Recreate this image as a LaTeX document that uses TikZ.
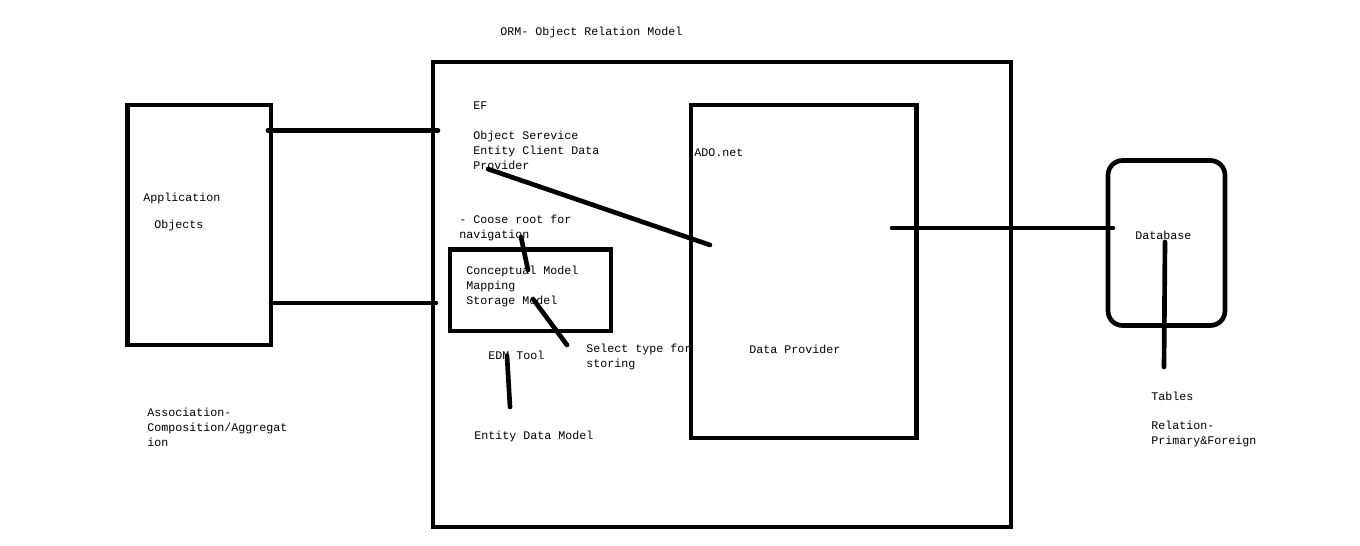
\documentclass[tikz,border=0pt]{standalone}
\usepackage{fontspec}
\setmonofont{Liberation Mono}

\begin{document}
\begin{tikzpicture}[x=0.75pt, y=-0.75pt, line cap=round,
  every node/.style={font=\ttfamily\fontsize{8.75pt}{11.25pt}\selectfont, align=left, inner sep=0pt},
  box/.style={draw, line width=3.5pt},
  lbl/.style={anchor=base west},
  wire/.style={line width=3.5pt}]
  \useasboundingbox (0,0) rectangle (1360,546);
  % boxes
  \node[box, minimum width=107.6pt, minimum height=180pt] (app) at (199.25,225) {};
  \node[box, minimum width=433.5pt, minimum height=348.75pt] (orm) at (722,294.5) {};
  \node[box, minimum width=169.1pt, minimum height=249.75pt] (ado) at (803.75,271.5) {};
  \node[box, minimum width=120.75pt, minimum height=61.1pt] (cmodel) at (530.5,290.25) {};
  \node[box, rounded corners=11pt, minimum width=87.75pt, minimum height=123.75pt] (db) at (1166.5,243) {};
  % texts (base = last line)
  \node[lbl] (title) at (500,35) {ORM- Object Relation Model};
  \node[lbl] (ef) at (473,109) {EF};
  \node[lbl] (objsvc) at (473,169) {Object Serevice\\Entity Client Data\\Provider};
  \node[lbl] (adonet) at (694,156) {ADO.net};
  \node[lbl] (root) at (459,238) {- Coose root for\\navigation};
  \node[lbl] (models) at (466,304) {Conceptual Model\\Mapping\\Storage Model};
  \node[lbl] (edmtool) at (488,359) {EDM Tool};
  \node[lbl] (select) at (586,367) {Select type for\\storing};
  \node[lbl] (edm) at (474,439) {Entity Data Model};
  \node[lbl] (dataprov) at (749,353) {Data Provider};
  \node[lbl] (appl) at (143,201) {Application};
  \node[lbl] (objs) at (154,228) {Objects};
  \node[lbl] (assoc) at (147,446) {Association-\\Composition/Aggregat\\ion};
  \node[lbl] (dbase) at (1135,239) {Database};
  \node[lbl] (tables) at (1151,400) {Tables};
  \node[lbl] (rel) at (1151,444) {Relation-\\Primary\&Foreign};
  % connector ends
  \coordinate (apptop) at (268,130.5);
  \coordinate (ormtop) at (438,130.5);
  \coordinate (appbot) at (271,303);
  \coordinate (ormbot) at (436,303);
  \coordinate (provend) at (488,169);
  \coordinate (adoend) at (710,245);
  \coordinate (rootend) at (521,237);
  \coordinate (conend) at (528,270);
  \coordinate (storend) at (533,299);
  \coordinate (selend) at (567,345);
  \coordinate (tooltop) at (507,356);
  \coordinate (toolbot) at (510,407);
  \coordinate (adoout) at (892,228);
  \coordinate (dbin) at (1113,228);
  \coordinate (dbtop) at (1165,242);
  \coordinate (tabend) at (1164,367);
  % lines
  \draw[wire] (apptop) -- (ormtop);
  \draw[wire] (appbot) -- (ormbot);
  \draw[wire] (provend) -- (adoend);
  \draw[wire] (rootend) -- (conend);
  \draw[wire] (storend) -- (selend);
  \draw[wire] (tooltop) -- (toolbot);
  \draw[wire] (adoout) -- (dbin);
  \draw[wire] (dbtop) -- (tabend);
\end{tikzpicture}
\end{document}
